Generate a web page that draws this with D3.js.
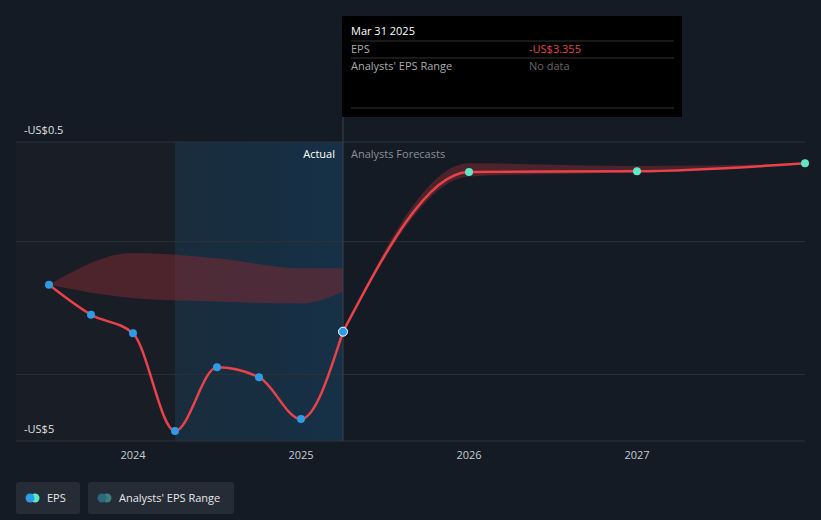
<!DOCTYPE html>
<html><head><meta charset="utf-8">
<script src="https://cdn.jsdelivr.net/npm/d3@7"></script>
<style>
body{margin:0;background:#151b24;font-family:"Open Sans",sans-serif;}
svg{display:block}
</style></head><body>
<svg id="chart" width="821" height="520"></svg>
<script>
// actual EPS
const actualDates = [2023.5, 2023.75, 2024.0, 2024.25, 2024.5, 2024.75, 2025.0, 2025.25];
const actualEps = [-2.65, -3.1, -3.38, -4.85, -3.89, -4.04, -4.67, -3.355];
// forecast EPS
const forecastDates = [2025.25, 2026, 2027, 2028];
const forecastEps = [-3.355, -0.95, -0.94, -0.82];
// analysts range (past)
const pastRangeDates = [2023.5, 2024.0, 2024.5, 2025.0, 2025.25];
const pastRangeHigh = [-2.65, -2.17, -2.25, -2.4, -2.4];
const pastRangeLow = [-2.65, -2.85, -2.9, -2.93, -2.75];
// analysts range (forecast)
const fcRangeDates = [2025.25, 2026, 2027, 2028];
const fcRangeHigh = [-3.355, -0.82, -0.86, -0.82];
const fcRangeLow = [-3.355, -1.02, -0.95, -0.82];
const yTicks = [-0.5, -2, -4, -5];
const yLabels = {"-0.5": "-US$0.5", "-5": "-US$5"};
const xTicks = [2024, 2025, 2026, 2027];

const svg = d3.select("#chart");
const x = d3.scaleLinear().domain([2024, 2027]).range([133, 637]);
const y = d3.scaleLinear().domain([-0.5, -5]).range([142, 441]);
const L = 16, R = 805;

svg.append("rect").attr("x", L).attr("y", 142).attr("width", x(2024.25) - L).attr("height", 299).attr("fill", "#181d26");
svg.append("rect").attr("x", x(2024.25)).attr("y", 142).attr("width", x(2025.25) - x(2024.25)).attr("height", 299).attr("fill", "#172a3b");
svg.append("rect").attr("x", x(2024.25)).attr("y", 142).attr("width", x(2025.25) - x(2024.25)).attr("height", 299).attr("fill", "url(#hl)");
const defs = svg.append("defs");
const g = defs.append("linearGradient").attr("id", "hl");
g.append("stop").attr("offset", "0").attr("stop-color", "#1a2e3e").attr("stop-opacity", 0.6);
g.append("stop").attr("offset", "1").attr("stop-color", "#16324a").attr("stop-opacity", 0.8);

svg.selectAll(".grid").data(yTicks).join("line")
  .attr("x1", L).attr("x2", R).attr("y1", d => y(d)).attr("y2", d => y(d))
  .attr("stroke", "#2c323b").attr("stroke-width", 1);
svg.selectAll(".yl").data(yTicks.filter(d => yLabels[d])).join("text")
  .attr("x", 24).attr("y", d => y(d) - 8).attr("fill", "#e0e0e0").attr("font-size", 11)
  .text(d => yLabels[d]);
svg.selectAll(".xl").data(xTicks).join("text")
  .attr("x", d => x(d)).attr("y", 459).attr("text-anchor", "middle").attr("fill", "#c9ccd1").attr("font-size", 11)
  .text(d => d);

const area = d3.area().curve(d3.curveMonotoneX);
svg.append("path").attr("d", area.x(d => x(d.t)).y0(d => y(d.lo)).y1(d => y(d.hi))(
  pastRangeDates.map((t, i) => ({t, lo: pastRangeLow[i], hi: pastRangeHigh[i]}))))
  .attr("fill", "#7a2a31").attr("opacity", 0.55);
svg.append("path").attr("d", area.x(d => x(d.t)).y0(d => y(d.lo)).y1(d => y(d.hi))(
  fcRangeDates.map((t, i) => ({t, lo: fcRangeLow[i], hi: fcRangeHigh[i]}))))
  .attr("fill", "#7a2a31").attr("opacity", 0.55);

svg.append("line").attr("x1", x(2025.25)).attr("x2", x(2025.25)).attr("y1", 16).attr("y2", 441).attr("stroke", "#3a4350");
svg.append("text").attr("x", x(2025.25) - 8).attr("y", 158).attr("text-anchor", "end").attr("fill", "#ffffff").attr("font-size", 11).text("Actual");
svg.append("text").attr("x", x(2025.25) + 8).attr("y", 158).attr("fill", "#8a9099").attr("font-size", 11).text("Analysts Forecasts");

const line = d3.line().curve(d3.curveMonotoneX).x(d => x(d[0])).y(d => y(d[1]));
svg.append("path").attr("d", line(actualDates.map((t, i) => [t, actualEps[i]])))
  .attr("fill", "none").attr("stroke", "#e8424a").attr("stroke-width", 2.5);
svg.append("path").attr("d", line(forecastDates.map((t, i) => [t, forecastEps[i]])))
  .attr("fill", "none").attr("stroke", "#e8424a").attr("stroke-width", 2.5);

svg.selectAll(".pa").data(actualDates.slice(0, -1)).join("circle")
  .attr("cx", d => x(d)).attr("cy", (d, i) => y(actualEps[i])).attr("r", 4).attr("fill", "#2d9be6");
svg.append("circle").attr("cx", x(2025.25)).attr("cy", y(-3.355)).attr("r", 4.5).attr("fill", "#2d9be6").attr("stroke", "#fff").attr("stroke-width", 1);
svg.selectAll(".pf").data(forecastDates.slice(1)).join("circle")
  .attr("cx", d => x(d)).attr("cy", (d, i) => y(forecastEps[i + 1])).attr("r", 4).attr("fill", "#5ee8c5");

// tooltip
const tt = svg.append("g");
tt.append("rect").attr("x", 342).attr("y", 16).attr("width", 340).attr("height", 101).attr("fill", "#000");
tt.append("text").attr("x", 351).attr("y", 35).attr("fill", "#fff").attr("font-size", 11).text("Mar 31 2025");
[41, 58, 108].forEach(yy => tt.append("line").attr("x1", 351).attr("x2", 674).attr("y1", yy).attr("y2", yy).attr("stroke", "#333"));
tt.append("text").attr("x", 351).attr("y", 53).attr("fill", "#aaa").attr("font-size", 11).text("EPS");
tt.append("text").attr("x", 529).attr("y", 53).attr("fill", "#e8424a").attr("font-size", 11).text("-US$3.355");
tt.append("text").attr("x", 351).attr("y", 70).attr("fill", "#aaa").attr("font-size", 11).text("Analysts' EPS Range");
tt.append("text").attr("x", 529).attr("y", 70).attr("fill", "#666").attr("font-size", 11).text("No data");

// legend
const leg = [{x: 16, w: 64, label: "EPS", c1: "#2d9be6", c2: "#5ee8c5"}, {x: 88, w: 146, label: "Analysts' EPS Range", c1: "#2a6a80", c2: "#3e7f7a"}];
leg.forEach(d => {
  svg.append("rect").attr("x", d.x).attr("y", 482).attr("width", d.w).attr("height", 32).attr("rx", 3).attr("fill", "#262c36");
  svg.append("circle").attr("cx", d.x + 19).attr("cy", 498).attr("r", 4.5).attr("fill", d.c2);
  svg.append("circle").attr("cx", d.x + 14).attr("cy", 498).attr("r", 4.5).attr("fill", d.c1);
  svg.append("text").attr("x", d.x + 31).attr("y", 502).attr("fill", "#e6e6e6").attr("font-size", 11).text(d.label);
});
</script></body></html>
